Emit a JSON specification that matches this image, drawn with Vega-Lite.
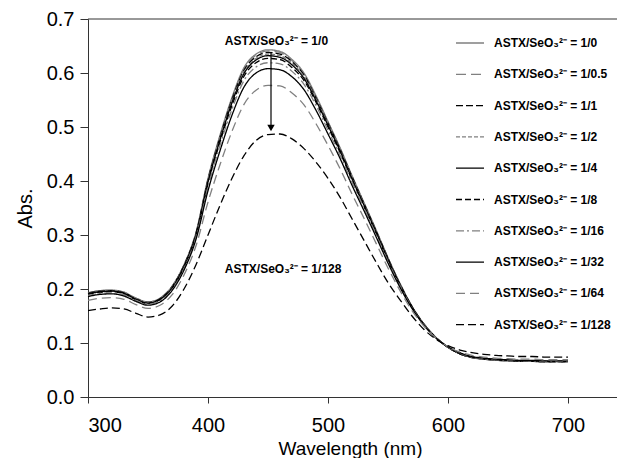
{
  "$schema": "https://vega.github.io/schema/vega-lite/v6.json",
  "autosize": {"type": "none"},
  "width": 529,
  "height": 378,
  "padding": {"left": 88, "top": 19, "right": 0, "bottom": 61},
  "background": "white",
  "config": {
    "view": {"stroke": null},
    "font": "Liberation Sans",
    "axis": {"labelFont": "Liberation Sans", "labelFontSize": 20, "labelColor": "#000", "titleFont": "Liberation Sans", "titleFontSize": 20, "titleFontWeight": "normal", "titleColor": "#000", "domainColor": "#333", "tickColor": "#333", "grid": false},
    "legend": {"orient": "none", "legendX": 367, "legendY": 9, "padding": 0, "symbolSize": 784, "symbolStrokeWidth": 1.3, "rowPadding": 10.3, "labelFont": "Liberation Sans", "labelFontSize": 12, "labelFontWeight": "bold", "labelColor": "#000", "labelOffset": 9, "labelLimit": 400}
  },
  "layer": [
    {
      "data": {"values": [
{"ratio":"1/0","nm":300,"abs":0.193},{"ratio":"1/0.5","nm":300,"abs":0.193},{"ratio":"1/1","nm":300,"abs":0.192},{"ratio":"1/2","nm":300,"abs":0.191},{"ratio":"1/4","nm":300,"abs":0.191},{"ratio":"1/8","nm":300,"abs":0.190},{"ratio":"1/16","nm":300,"abs":0.188},{"ratio":"1/32","nm":300,"abs":0.186},{"ratio":"1/64","nm":300,"abs":0.179},{"ratio":"1/128","nm":300,"abs":0.160},
{"ratio":"1/0","nm":310,"abs":0.197},{"ratio":"1/0.5","nm":310,"abs":0.197},{"ratio":"1/1","nm":310,"abs":0.196},{"ratio":"1/2","nm":310,"abs":0.195},{"ratio":"1/4","nm":310,"abs":0.195},{"ratio":"1/8","nm":310,"abs":0.194},{"ratio":"1/16","nm":310,"abs":0.192},{"ratio":"1/32","nm":310,"abs":0.190},{"ratio":"1/64","nm":310,"abs":0.183},{"ratio":"1/128","nm":310,"abs":0.163},
{"ratio":"1/0","nm":320,"abs":0.198},{"ratio":"1/0.5","nm":320,"abs":0.198},{"ratio":"1/1","nm":320,"abs":0.197},{"ratio":"1/2","nm":320,"abs":0.196},{"ratio":"1/4","nm":320,"abs":0.196},{"ratio":"1/8","nm":320,"abs":0.195},{"ratio":"1/16","nm":320,"abs":0.193},{"ratio":"1/32","nm":320,"abs":0.191},{"ratio":"1/64","nm":320,"abs":0.184},{"ratio":"1/128","nm":320,"abs":0.165},
{"ratio":"1/0","nm":330,"abs":0.194},{"ratio":"1/0.5","nm":330,"abs":0.194},{"ratio":"1/1","nm":330,"abs":0.193},{"ratio":"1/2","nm":330,"abs":0.192},{"ratio":"1/4","nm":330,"abs":0.192},{"ratio":"1/8","nm":330,"abs":0.191},{"ratio":"1/16","nm":330,"abs":0.189},{"ratio":"1/32","nm":330,"abs":0.187},{"ratio":"1/64","nm":330,"abs":0.181},{"ratio":"1/128","nm":330,"abs":0.163},
{"ratio":"1/0","nm":340,"abs":0.183},{"ratio":"1/0.5","nm":340,"abs":0.183},{"ratio":"1/1","nm":340,"abs":0.182},{"ratio":"1/2","nm":340,"abs":0.182},{"ratio":"1/4","nm":340,"abs":0.181},{"ratio":"1/8","nm":340,"abs":0.180},{"ratio":"1/16","nm":340,"abs":0.179},{"ratio":"1/32","nm":340,"abs":0.177},{"ratio":"1/64","nm":340,"abs":0.171},{"ratio":"1/128","nm":340,"abs":0.155},
{"ratio":"1/0","nm":350,"abs":0.176},{"ratio":"1/0.5","nm":350,"abs":0.176},{"ratio":"1/1","nm":350,"abs":0.175},{"ratio":"1/2","nm":350,"abs":0.175},{"ratio":"1/4","nm":350,"abs":0.174},{"ratio":"1/8","nm":350,"abs":0.173},{"ratio":"1/16","nm":350,"abs":0.172},{"ratio":"1/32","nm":350,"abs":0.170},{"ratio":"1/64","nm":350,"abs":0.164},{"ratio":"1/128","nm":350,"abs":0.148},
{"ratio":"1/0","nm":360,"abs":0.183},{"ratio":"1/0.5","nm":360,"abs":0.183},{"ratio":"1/1","nm":360,"abs":0.182},{"ratio":"1/2","nm":360,"abs":0.181},{"ratio":"1/4","nm":360,"abs":0.181},{"ratio":"1/8","nm":360,"abs":0.180},{"ratio":"1/16","nm":360,"abs":0.178},{"ratio":"1/32","nm":360,"abs":0.176},{"ratio":"1/64","nm":360,"abs":0.170},{"ratio":"1/128","nm":360,"abs":0.152},
{"ratio":"1/0","nm":370,"abs":0.205},{"ratio":"1/0.5","nm":370,"abs":0.205},{"ratio":"1/1","nm":370,"abs":0.204},{"ratio":"1/2","nm":370,"abs":0.203},{"ratio":"1/4","nm":370,"abs":0.202},{"ratio":"1/8","nm":370,"abs":0.201},{"ratio":"1/16","nm":370,"abs":0.199},{"ratio":"1/32","nm":370,"abs":0.197},{"ratio":"1/64","nm":370,"abs":0.189},{"ratio":"1/128","nm":370,"abs":0.168},
{"ratio":"1/0","nm":380,"abs":0.245},{"ratio":"1/0.5","nm":380,"abs":0.244},{"ratio":"1/1","nm":380,"abs":0.244},{"ratio":"1/2","nm":380,"abs":0.243},{"ratio":"1/4","nm":380,"abs":0.242},{"ratio":"1/8","nm":380,"abs":0.241},{"ratio":"1/16","nm":380,"abs":0.238},{"ratio":"1/32","nm":380,"abs":0.235},{"ratio":"1/64","nm":380,"abs":0.226},{"ratio":"1/128","nm":380,"abs":0.200},
{"ratio":"1/0","nm":390,"abs":0.305},{"ratio":"1/0.5","nm":390,"abs":0.304},{"ratio":"1/1","nm":390,"abs":0.303},{"ratio":"1/2","nm":390,"abs":0.302},{"ratio":"1/4","nm":390,"abs":0.301},{"ratio":"1/8","nm":390,"abs":0.299},{"ratio":"1/16","nm":390,"abs":0.296},{"ratio":"1/32","nm":390,"abs":0.292},{"ratio":"1/64","nm":390,"abs":0.280},{"ratio":"1/128","nm":390,"abs":0.245},
{"ratio":"1/0","nm":400,"abs":0.405},{"ratio":"1/0.5","nm":400,"abs":0.404},{"ratio":"1/1","nm":400,"abs":0.402},{"ratio":"1/2","nm":400,"abs":0.400},{"ratio":"1/4","nm":400,"abs":0.398},{"ratio":"1/8","nm":400,"abs":0.395},{"ratio":"1/16","nm":400,"abs":0.389},{"ratio":"1/32","nm":400,"abs":0.382},{"ratio":"1/64","nm":400,"abs":0.361},{"ratio":"1/128","nm":400,"abs":0.300},
{"ratio":"1/0","nm":410,"abs":0.485},{"ratio":"1/0.5","nm":410,"abs":0.483},{"ratio":"1/1","nm":410,"abs":0.481},{"ratio":"1/2","nm":410,"abs":0.479},{"ratio":"1/4","nm":410,"abs":0.476},{"ratio":"1/8","nm":410,"abs":0.472},{"ratio":"1/16","nm":410,"abs":0.466},{"ratio":"1/32","nm":410,"abs":0.456},{"ratio":"1/64","nm":410,"abs":0.430},{"ratio":"1/128","nm":410,"abs":0.355},
{"ratio":"1/0","nm":420,"abs":0.555},{"ratio":"1/0.5","nm":420,"abs":0.553},{"ratio":"1/1","nm":420,"abs":0.551},{"ratio":"1/2","nm":420,"abs":0.548},{"ratio":"1/4","nm":420,"abs":0.545},{"ratio":"1/8","nm":420,"abs":0.540},{"ratio":"1/16","nm":420,"abs":0.533},{"ratio":"1/32","nm":420,"abs":0.522},{"ratio":"1/64","nm":420,"abs":0.492},{"ratio":"1/128","nm":420,"abs":0.405},
{"ratio":"1/0","nm":430,"abs":0.610},{"ratio":"1/0.5","nm":430,"abs":0.608},{"ratio":"1/1","nm":430,"abs":0.605},{"ratio":"1/2","nm":430,"abs":0.602},{"ratio":"1/4","nm":430,"abs":0.599},{"ratio":"1/8","nm":430,"abs":0.594},{"ratio":"1/16","nm":430,"abs":0.586},{"ratio":"1/32","nm":430,"abs":0.574},{"ratio":"1/64","nm":430,"abs":0.542},{"ratio":"1/128","nm":430,"abs":0.447},
{"ratio":"1/0","nm":440,"abs":0.635},{"ratio":"1/0.5","nm":440,"abs":0.633},{"ratio":"1/1","nm":440,"abs":0.630},{"ratio":"1/2","nm":440,"abs":0.627},{"ratio":"1/4","nm":440,"abs":0.624},{"ratio":"1/8","nm":440,"abs":0.619},{"ratio":"1/16","nm":440,"abs":0.611},{"ratio":"1/32","nm":440,"abs":0.600},{"ratio":"1/64","nm":440,"abs":0.568},{"ratio":"1/128","nm":440,"abs":0.475},
{"ratio":"1/0","nm":450,"abs":0.643},{"ratio":"1/0.5","nm":450,"abs":0.641},{"ratio":"1/1","nm":450,"abs":0.638},{"ratio":"1/2","nm":450,"abs":0.635},{"ratio":"1/4","nm":450,"abs":0.632},{"ratio":"1/8","nm":450,"abs":0.627},{"ratio":"1/16","nm":450,"abs":0.619},{"ratio":"1/32","nm":450,"abs":0.608},{"ratio":"1/64","nm":450,"abs":0.577},{"ratio":"1/128","nm":450,"abs":0.486},
{"ratio":"1/0","nm":460,"abs":0.640},{"ratio":"1/0.5","nm":460,"abs":0.638},{"ratio":"1/1","nm":460,"abs":0.635},{"ratio":"1/2","nm":460,"abs":0.632},{"ratio":"1/4","nm":460,"abs":0.629},{"ratio":"1/8","nm":460,"abs":0.625},{"ratio":"1/16","nm":460,"abs":0.617},{"ratio":"1/32","nm":460,"abs":0.606},{"ratio":"1/64","nm":460,"abs":0.576},{"ratio":"1/128","nm":460,"abs":0.487},
{"ratio":"1/0","nm":470,"abs":0.625},{"ratio":"1/0.5","nm":470,"abs":0.623},{"ratio":"1/1","nm":470,"abs":0.621},{"ratio":"1/2","nm":470,"abs":0.618},{"ratio":"1/4","nm":470,"abs":0.615},{"ratio":"1/8","nm":470,"abs":0.610},{"ratio":"1/16","nm":470,"abs":0.603},{"ratio":"1/32","nm":470,"abs":0.593},{"ratio":"1/64","nm":470,"abs":0.563},{"ratio":"1/128","nm":470,"abs":0.478},
{"ratio":"1/0","nm":480,"abs":0.600},{"ratio":"1/0.5","nm":480,"abs":0.598},{"ratio":"1/1","nm":480,"abs":0.596},{"ratio":"1/2","nm":480,"abs":0.593},{"ratio":"1/4","nm":480,"abs":0.590},{"ratio":"1/8","nm":480,"abs":0.586},{"ratio":"1/16","nm":480,"abs":0.579},{"ratio":"1/32","nm":480,"abs":0.569},{"ratio":"1/64","nm":480,"abs":0.541},{"ratio":"1/128","nm":480,"abs":0.460},
{"ratio":"1/0","nm":490,"abs":0.558},{"ratio":"1/0.5","nm":490,"abs":0.556},{"ratio":"1/1","nm":490,"abs":0.554},{"ratio":"1/2","nm":490,"abs":0.552},{"ratio":"1/4","nm":490,"abs":0.549},{"ratio":"1/8","nm":490,"abs":0.546},{"ratio":"1/16","nm":490,"abs":0.540},{"ratio":"1/32","nm":490,"abs":0.531},{"ratio":"1/64","nm":490,"abs":0.506},{"ratio":"1/128","nm":490,"abs":0.435},
{"ratio":"1/0","nm":500,"abs":0.510},{"ratio":"1/0.5","nm":500,"abs":0.509},{"ratio":"1/1","nm":500,"abs":0.507},{"ratio":"1/2","nm":500,"abs":0.505},{"ratio":"1/4","nm":500,"abs":0.503},{"ratio":"1/8","nm":500,"abs":0.500},{"ratio":"1/16","nm":500,"abs":0.494},{"ratio":"1/32","nm":500,"abs":0.487},{"ratio":"1/64","nm":500,"abs":0.466},{"ratio":"1/128","nm":500,"abs":0.405},
{"ratio":"1/0","nm":510,"abs":0.462},{"ratio":"1/0.5","nm":510,"abs":0.461},{"ratio":"1/1","nm":510,"abs":0.459},{"ratio":"1/2","nm":510,"abs":0.457},{"ratio":"1/4","nm":510,"abs":0.456},{"ratio":"1/8","nm":510,"abs":0.453},{"ratio":"1/16","nm":510,"abs":0.448},{"ratio":"1/32","nm":510,"abs":0.442},{"ratio":"1/64","nm":510,"abs":0.423},{"ratio":"1/128","nm":510,"abs":0.370},
{"ratio":"1/0","nm":520,"abs":0.410},{"ratio":"1/0.5","nm":520,"abs":0.409},{"ratio":"1/1","nm":520,"abs":0.408},{"ratio":"1/2","nm":520,"abs":0.406},{"ratio":"1/4","nm":520,"abs":0.404},{"ratio":"1/8","nm":520,"abs":0.402},{"ratio":"1/16","nm":520,"abs":0.398},{"ratio":"1/32","nm":520,"abs":0.392},{"ratio":"1/64","nm":520,"abs":0.376},{"ratio":"1/128","nm":520,"abs":0.330},
{"ratio":"1/0","nm":530,"abs":0.360},{"ratio":"1/0.5","nm":530,"abs":0.359},{"ratio":"1/1","nm":530,"abs":0.358},{"ratio":"1/2","nm":530,"abs":0.357},{"ratio":"1/4","nm":530,"abs":0.355},{"ratio":"1/8","nm":530,"abs":0.353},{"ratio":"1/16","nm":530,"abs":0.350},{"ratio":"1/32","nm":530,"abs":0.345},{"ratio":"1/64","nm":530,"abs":0.331},{"ratio":"1/128","nm":530,"abs":0.290},
{"ratio":"1/0","nm":540,"abs":0.310},{"ratio":"1/0.5","nm":540,"abs":0.309},{"ratio":"1/1","nm":540,"abs":0.308},{"ratio":"1/2","nm":540,"abs":0.307},{"ratio":"1/4","nm":540,"abs":0.306},{"ratio":"1/8","nm":540,"abs":0.304},{"ratio":"1/16","nm":540,"abs":0.301},{"ratio":"1/32","nm":540,"abs":0.297},{"ratio":"1/64","nm":540,"abs":0.285},{"ratio":"1/128","nm":540,"abs":0.250},
{"ratio":"1/0","nm":550,"abs":0.258},{"ratio":"1/0.5","nm":550,"abs":0.257},{"ratio":"1/1","nm":550,"abs":0.257},{"ratio":"1/2","nm":550,"abs":0.256},{"ratio":"1/4","nm":550,"abs":0.255},{"ratio":"1/8","nm":550,"abs":0.253},{"ratio":"1/16","nm":550,"abs":0.251},{"ratio":"1/32","nm":550,"abs":0.248},{"ratio":"1/64","nm":550,"abs":0.239},{"ratio":"1/128","nm":550,"abs":0.212},
{"ratio":"1/0","nm":560,"abs":0.210},{"ratio":"1/0.5","nm":560,"abs":0.210},{"ratio":"1/1","nm":560,"abs":0.209},{"ratio":"1/2","nm":560,"abs":0.209},{"ratio":"1/4","nm":560,"abs":0.208},{"ratio":"1/8","nm":560,"abs":0.207},{"ratio":"1/16","nm":560,"abs":0.206},{"ratio":"1/32","nm":560,"abs":0.203},{"ratio":"1/64","nm":560,"abs":0.197},{"ratio":"1/128","nm":560,"abs":0.180},
{"ratio":"1/0","nm":570,"abs":0.168},{"ratio":"1/0.5","nm":570,"abs":0.168},{"ratio":"1/1","nm":570,"abs":0.167},{"ratio":"1/2","nm":570,"abs":0.167},{"ratio":"1/4","nm":570,"abs":0.167},{"ratio":"1/8","nm":570,"abs":0.166},{"ratio":"1/16","nm":570,"abs":0.165},{"ratio":"1/32","nm":570,"abs":0.164},{"ratio":"1/64","nm":570,"abs":0.160},{"ratio":"1/128","nm":570,"abs":0.150},
{"ratio":"1/0","nm":580,"abs":0.135},{"ratio":"1/0.5","nm":580,"abs":0.135},{"ratio":"1/1","nm":580,"abs":0.135},{"ratio":"1/2","nm":580,"abs":0.135},{"ratio":"1/4","nm":580,"abs":0.134},{"ratio":"1/8","nm":580,"abs":0.134},{"ratio":"1/16","nm":580,"abs":0.134},{"ratio":"1/32","nm":580,"abs":0.133},{"ratio":"1/64","nm":580,"abs":0.131},{"ratio":"1/128","nm":580,"abs":0.125},
{"ratio":"1/0","nm":590,"abs":0.110},{"ratio":"1/0.5","nm":590,"abs":0.110},{"ratio":"1/1","nm":590,"abs":0.110},{"ratio":"1/2","nm":590,"abs":0.110},{"ratio":"1/4","nm":590,"abs":0.110},{"ratio":"1/8","nm":590,"abs":0.110},{"ratio":"1/16","nm":590,"abs":0.110},{"ratio":"1/32","nm":590,"abs":0.109},{"ratio":"1/64","nm":590,"abs":0.109},{"ratio":"1/128","nm":590,"abs":0.107},
{"ratio":"1/0","nm":600,"abs":0.092},{"ratio":"1/0.5","nm":600,"abs":0.092},{"ratio":"1/1","nm":600,"abs":0.092},{"ratio":"1/2","nm":600,"abs":0.092},{"ratio":"1/4","nm":600,"abs":0.092},{"ratio":"1/8","nm":600,"abs":0.092},{"ratio":"1/16","nm":600,"abs":0.092},{"ratio":"1/32","nm":600,"abs":0.093},{"ratio":"1/64","nm":600,"abs":0.093},{"ratio":"1/128","nm":600,"abs":0.095},
{"ratio":"1/0","nm":610,"abs":0.080},{"ratio":"1/0.5","nm":610,"abs":0.080},{"ratio":"1/1","nm":610,"abs":0.080},{"ratio":"1/2","nm":610,"abs":0.080},{"ratio":"1/4","nm":610,"abs":0.080},{"ratio":"1/8","nm":610,"abs":0.081},{"ratio":"1/16","nm":610,"abs":0.081},{"ratio":"1/32","nm":610,"abs":0.082},{"ratio":"1/64","nm":610,"abs":0.083},{"ratio":"1/128","nm":610,"abs":0.087},
{"ratio":"1/0","nm":620,"abs":0.073},{"ratio":"1/0.5","nm":620,"abs":0.073},{"ratio":"1/1","nm":620,"abs":0.073},{"ratio":"1/2","nm":620,"abs":0.073},{"ratio":"1/4","nm":620,"abs":0.074},{"ratio":"1/8","nm":620,"abs":0.074},{"ratio":"1/16","nm":620,"abs":0.074},{"ratio":"1/32","nm":620,"abs":0.075},{"ratio":"1/64","nm":620,"abs":0.077},{"ratio":"1/128","nm":620,"abs":0.082},
{"ratio":"1/0","nm":630,"abs":0.070},{"ratio":"1/0.5","nm":630,"abs":0.070},{"ratio":"1/1","nm":630,"abs":0.070},{"ratio":"1/2","nm":630,"abs":0.070},{"ratio":"1/4","nm":630,"abs":0.071},{"ratio":"1/8","nm":630,"abs":0.071},{"ratio":"1/16","nm":630,"abs":0.071},{"ratio":"1/32","nm":630,"abs":0.072},{"ratio":"1/64","nm":630,"abs":0.074},{"ratio":"1/128","nm":630,"abs":0.079},
{"ratio":"1/0","nm":640,"abs":0.068},{"ratio":"1/0.5","nm":640,"abs":0.068},{"ratio":"1/1","nm":640,"abs":0.068},{"ratio":"1/2","nm":640,"abs":0.068},{"ratio":"1/4","nm":640,"abs":0.069},{"ratio":"1/8","nm":640,"abs":0.069},{"ratio":"1/16","nm":640,"abs":0.069},{"ratio":"1/32","nm":640,"abs":0.070},{"ratio":"1/64","nm":640,"abs":0.072},{"ratio":"1/128","nm":640,"abs":0.077},
{"ratio":"1/0","nm":650,"abs":0.067},{"ratio":"1/0.5","nm":650,"abs":0.067},{"ratio":"1/1","nm":650,"abs":0.067},{"ratio":"1/2","nm":650,"abs":0.067},{"ratio":"1/4","nm":650,"abs":0.068},{"ratio":"1/8","nm":650,"abs":0.068},{"ratio":"1/16","nm":650,"abs":0.068},{"ratio":"1/32","nm":650,"abs":0.069},{"ratio":"1/64","nm":650,"abs":0.071},{"ratio":"1/128","nm":650,"abs":0.076},
{"ratio":"1/0","nm":660,"abs":0.066},{"ratio":"1/0.5","nm":660,"abs":0.066},{"ratio":"1/1","nm":660,"abs":0.066},{"ratio":"1/2","nm":660,"abs":0.066},{"ratio":"1/4","nm":660,"abs":0.067},{"ratio":"1/8","nm":660,"abs":0.067},{"ratio":"1/16","nm":660,"abs":0.067},{"ratio":"1/32","nm":660,"abs":0.068},{"ratio":"1/64","nm":660,"abs":0.070},{"ratio":"1/128","nm":660,"abs":0.075},
{"ratio":"1/0","nm":670,"abs":0.066},{"ratio":"1/0.5","nm":670,"abs":0.066},{"ratio":"1/1","nm":670,"abs":0.066},{"ratio":"1/2","nm":670,"abs":0.066},{"ratio":"1/4","nm":670,"abs":0.067},{"ratio":"1/8","nm":670,"abs":0.067},{"ratio":"1/16","nm":670,"abs":0.067},{"ratio":"1/32","nm":670,"abs":0.068},{"ratio":"1/64","nm":670,"abs":0.070},{"ratio":"1/128","nm":670,"abs":0.075},
{"ratio":"1/0","nm":680,"abs":0.065},{"ratio":"1/0.5","nm":680,"abs":0.065},{"ratio":"1/1","nm":680,"abs":0.065},{"ratio":"1/2","nm":680,"abs":0.065},{"ratio":"1/4","nm":680,"abs":0.066},{"ratio":"1/8","nm":680,"abs":0.066},{"ratio":"1/16","nm":680,"abs":0.066},{"ratio":"1/32","nm":680,"abs":0.067},{"ratio":"1/64","nm":680,"abs":0.069},{"ratio":"1/128","nm":680,"abs":0.074},
{"ratio":"1/0","nm":690,"abs":0.065},{"ratio":"1/0.5","nm":690,"abs":0.065},{"ratio":"1/1","nm":690,"abs":0.065},{"ratio":"1/2","nm":690,"abs":0.065},{"ratio":"1/4","nm":690,"abs":0.066},{"ratio":"1/8","nm":690,"abs":0.066},{"ratio":"1/16","nm":690,"abs":0.066},{"ratio":"1/32","nm":690,"abs":0.067},{"ratio":"1/64","nm":690,"abs":0.069},{"ratio":"1/128","nm":690,"abs":0.074},
{"ratio":"1/0","nm":700,"abs":0.065},{"ratio":"1/0.5","nm":700,"abs":0.065},{"ratio":"1/1","nm":700,"abs":0.065},{"ratio":"1/2","nm":700,"abs":0.065},{"ratio":"1/4","nm":700,"abs":0.066},{"ratio":"1/8","nm":700,"abs":0.066},{"ratio":"1/16","nm":700,"abs":0.066},{"ratio":"1/32","nm":700,"abs":0.067},{"ratio":"1/64","nm":700,"abs":0.069},{"ratio":"1/128","nm":700,"abs":0.074}
      ]},
      "mark": {"type": "line", "interpolate": "monotone", "strokeWidth": 1.3},
      "encoding": {
        "x": {"field": "nm", "type": "quantitative", "scale": {"domain": [300, 740.83], "nice": false, "zero": false},
              "axis": {"title": "Wavelength (nm)", "values": [300, 400, 500, 600, 700], "tickSize": 6, "labelPadding": 12, "titleFontSize": 19, "titleBaseline": "alphabetic", "titleY": 57, "titleX": 262}},
        "y": {"field": "abs", "type": "quantitative", "scale": {"domain": [0, 0.7], "nice": false},
              "axis": {"title": "Abs.", "values": [0, 0.1, 0.2, 0.3, 0.4, 0.5, 0.6, 0.7], "format": ".1f", "tickSize": 8, "labelPadding": 6, "titleX": -57, "titleBaseline": "alphabetic"}},
        "color": {"field": "ratio", "type": "nominal",
                  "scale": {"domain": ["1/0", "1/0.5", "1/1", "1/2", "1/4", "1/8", "1/16", "1/32", "1/64", "1/128"],
                            "range": ["#808080", "#808080", "#000000", "#808080", "#000000", "#000000", "#808080", "#000000", "#808080", "#000000"]},
                  "legend": {"title": null, "labelExpr": "'ASTX/SeO₃²⁻ = ' + datum.label"}},
        "strokeDash": {"field": "ratio", "type": "nominal",
                  "scale": {"domain": ["1/0", "1/0.5", "1/1", "1/2", "1/4", "1/8", "1/16", "1/32", "1/64", "1/128"],
                            "range": [[1, 0], [10, 5], [7, 3], [4, 2], [1, 0], [6, 3], [8, 3, 2, 3], [1, 0], [9, 5], [8, 4]]},
                  "legend": {"title": null, "labelExpr": "'ASTX/SeO₃²⁻ = ' + datum.label"}}
      }
    },
    {
      "data": {"values": [{}]},
      "mark": {"type": "rule", "color": "#333", "strokeWidth": 1},
      "encoding": {"y": {"datum": 0.7}}
    },
    {
      "data": {"values": [{}]},
      "mark": {"type": "rule", "color": "#000", "strokeWidth": 1.2},
      "encoding": {"x": {"datum": 452.5}, "y": {"datum": 0.639}, "y2": {"datum": 0.5}}
    },
    {
      "data": {"values": [{}]},
      "mark": {"type": "point", "shape": "triangle-down", "filled": true, "color": "#000", "size": 55, "opacity": 1},
      "encoding": {"x": {"datum": 452.5}, "y": {"datum": 0.498}}
    },
    {
      "data": {"values": [{}]},
      "mark": {"type": "text", "align": "left", "baseline": "alphabetic", "font": "Liberation Sans", "fontSize": 12, "fontWeight": "bold", "color": "#000", "text": "ASTX/SeO₃²⁻ = 1/0"},
      "encoding": {"x": {"datum": 414}, "y": {"datum": 0.652}}
    },
    {
      "data": {"values": [{}]},
      "mark": {"type": "text", "align": "left", "baseline": "alphabetic", "font": "Liberation Sans", "fontSize": 12, "fontWeight": "bold", "color": "#000", "text": "ASTX/SeO₃²⁻ = 1/128"},
      "encoding": {"x": {"datum": 414}, "y": {"datum": 0.23}}
    }
  ]
}
